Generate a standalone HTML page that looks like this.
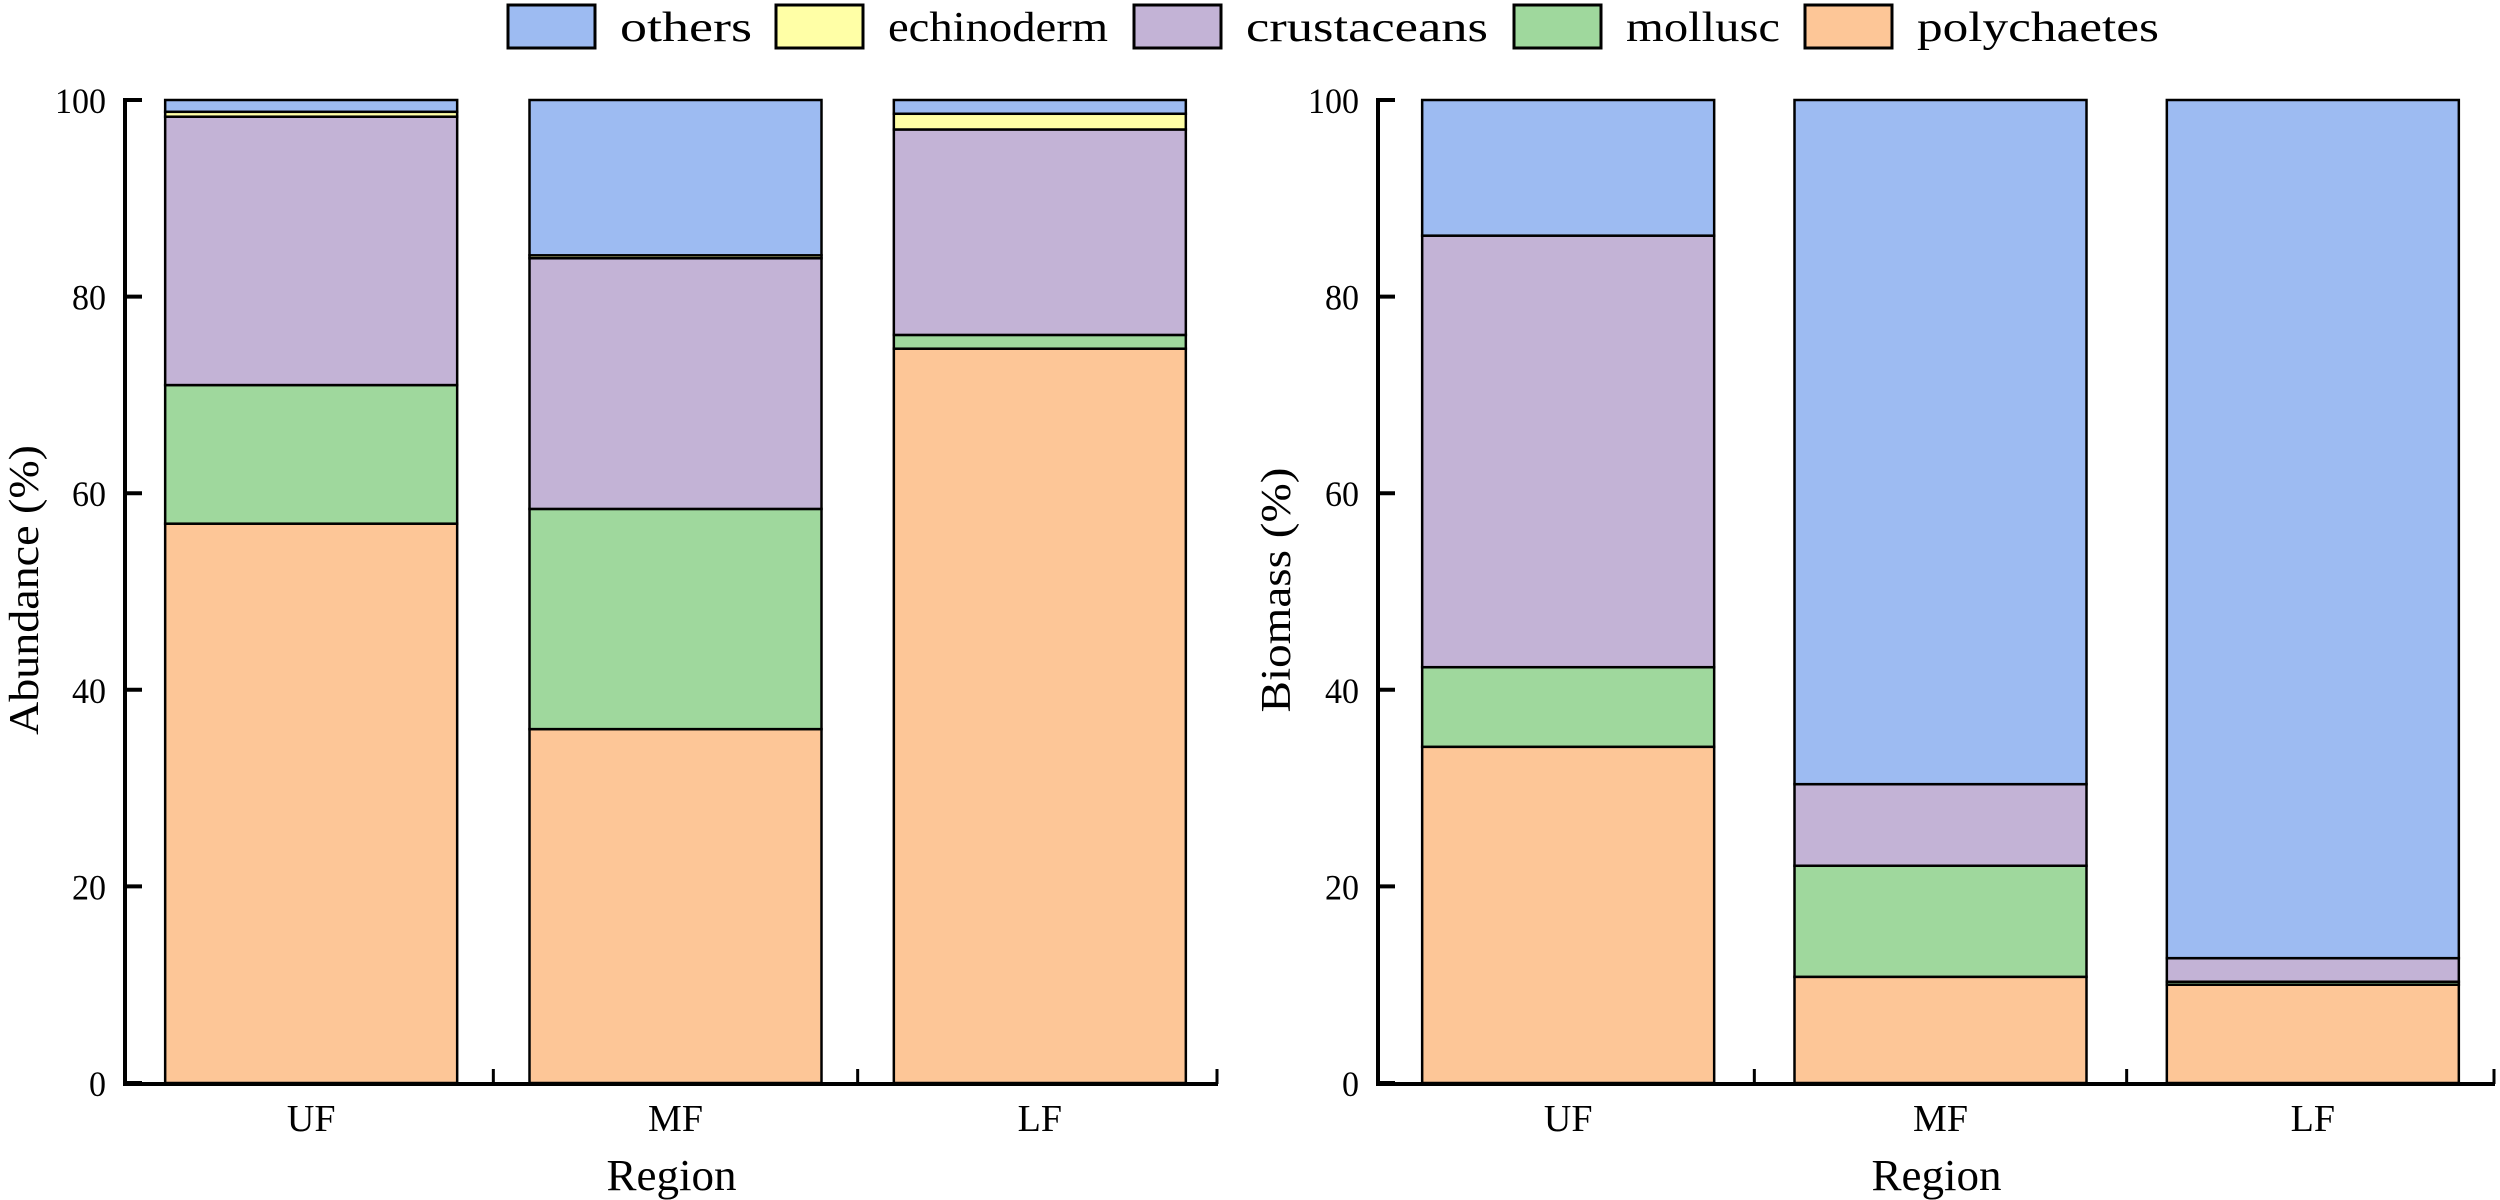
<!DOCTYPE html>
<html><head><meta charset="utf-8"><style>html,body{margin:0;padding:0;background:#fff}svg{display:block}</style></head>
<body>
<svg id="chart" width="2500" height="1200" xmlns="http://www.w3.org/2000/svg" font-family="'Liberation Serif', serif"></svg>
<script>
const categories = ["UF","MF","LF"];
const seriesNames = ["polychaetes","mollusc","crustaceans","echinoderm","others"];
const seriesColors = ["#fdc697","#9fd89d","#c3b3d6","#ffffa6","#9dbbf2"];
const abundPoly = [56.9, 36.0, 74.7];
const abundMoll = [14.1, 22.4, 1.4];
const abundCrust = [27.3, 25.5, 20.9];
const abundEchi = [0.5, 0.3, 1.6];
const abundOthers = [1.2, 15.8, 1.4];
const bioPoly = [34.2, 10.8, 10.0];
const bioMoll = [8.1, 11.3, 0.3];
const bioCrust = [43.9, 8.3, 2.4];
const bioEchi = [0.0, 0.0, 0.0];
const bioOthers = [13.8, 69.6, 87.3];
const yTicks = [0,20,40,60,80,100];
const legendOrder = ["others","echinoderm","crustaceans","mollusc","polychaetes"];

const NS="http://www.w3.org/2000/svg";
const svg=document.getElementById('chart');
function mk(tag,attrs,parent){const e=document.createElementNS(NS,tag);for(const k in attrs)e.setAttribute(k,attrs[k]);(parent||svg).appendChild(e);return e;}

// legend
const legX=[508,776,1134,1514,1805];
legendOrder.forEach((n,i)=>{
  const g=mk('g',{});
  
  
  const r=mk('rect',{x:legX[i],y:5,width:87,height:43,fill:seriesColors[seriesNames.indexOf(n)],stroke:'#000','stroke-width':3},g);
  
  
  const t=mk('text',{x:legX[i]+112,y:41,'font-size':42,textLength:n.length*22,lengthAdjust:'spacingAndGlyphs'},g);
  t.textContent=n;
  
  
});

function drawPanel(p){
  const y0=1083, yTop=100;
  const y=v=>y0-(v/100)*(y0-yTop);
  const bw=292, step=((p.axEnd-p.ax)-3*bw)/3;
  const xb=i=>p.ax+step/2+i*(bw+step)+4;
  const g=mk('g',{});
  
  
  const series=p.series;
  categories.forEach((c,i)=>{
    let cum=0;
    series.forEach((arr,s)=>{
      const v=arr[i];
      const r=mk('rect',{x:xb(i),y:y(cum+v),width:bw,height:Math.max(0,y(cum)-y(cum+v)),fill:seriesColors[s],stroke:'#000','stroke-width':2.5},g);
      
      
      cum+=v;
    });
    const t=mk('text',{x:xb(i)+bw/2,y:1131,'font-size':38,'text-anchor':'middle'},g);
    t.textContent=c;
    
    
  });
  // axes
  const ya=mk('line',{x1:p.ax,y1:y0+2,x2:p.ax,y2:yTop-2,stroke:'#000','stroke-width':4},g);
  
  
  const xa=mk('line',{x1:p.ax-2,y1:y0+1,x2:p.axEnd,y2:y0+1,stroke:'#000','stroke-width':4},g);
  
  
  for(let i=1;i<3;i++){
    const xt=xb(i)-step/2;
    mk('line',{x1:xt,y1:y0+1,x2:xt,y2:y0-14,stroke:'#000','stroke-width':3},g);
  }
  mk('line',{x1:p.axEnd-1,y1:y0+1,x2:p.axEnd-1,y2:y0-14,stroke:'#000','stroke-width':3},g);
  yTicks.forEach(v=>{
    mk('line',{x1:p.ax,y1:y(v),x2:p.ax+17,y2:y(v),stroke:'#000','stroke-width':4},g);
    const s=String(v);
    const t=mk('text',{x:p.ax-19,y:y(v)+13,'font-size':36,'text-anchor':'end',textLength:s.length*17,lengthAdjust:'spacingAndGlyphs'},g);
    t.textContent=s;
    
    
  });
  const xt=mk('text',{x:(p.ax+p.axEnd)/2,y:1190,'font-size':44,'text-anchor':'middle',textLength:130,lengthAdjust:'spacingAndGlyphs'},g);
  xt.textContent='Region';
  
  
  const yt=mk('text',{x:0,y:0,'font-size':42,'text-anchor':'middle',transform:`translate(${p.tx},590) rotate(-90)`,textLength:p.tl,lengthAdjust:'spacingAndGlyphs'},g);
  yt.textContent=p.title;
  
  
}
drawPanel({name:'abundance-panel',ax:125,axEnd:1218,series:[abundPoly,abundMoll,abundCrust,abundEchi,abundOthers],title:'Abundance (%)',tx:38,tl:290});
drawPanel({name:'biomass-panel',ax:1378,axEnd:2495,series:[bioPoly,bioMoll,bioCrust,bioEchi,bioOthers],title:'Biomass (%)',tx:1290,tl:245});
</script>
</body></html>
